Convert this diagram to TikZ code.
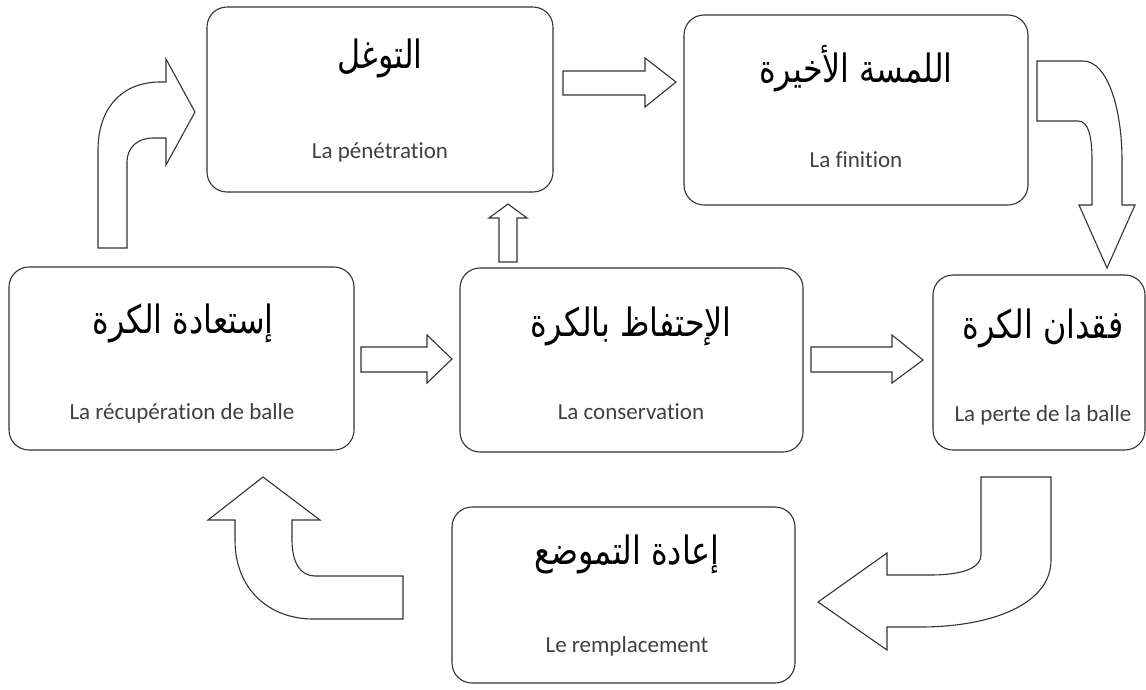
\documentclass[tikz,border=0pt]{standalone}
\usepackage{fontspec}
\setmainfont{Carlito}[Ligatures=NoCommon]
\newfontfamily\arabicfont[Script=Arabic]{DejaVu Sans}
\TeXXeTstate=1
\newcommand{\artxt}[1]{\scalebox{1.06}[1.3]{\arabicfont\fontsize{30}{34}\selectfont\beginR #1\endR}}
\begin{document}
\begin{tikzpicture}[x=1pt,y=-1pt,
  box/.style={draw=black!80, line width=1.1pt, rounded corners=20pt, inner sep=0pt},
  artext/.style={text=black, inner sep=0pt},
  frtext/.style={font=\fontsize{23}{27}\selectfont, text=black!75, inner sep=0pt},
  barrow/.style={draw=black!80, line width=1.1pt, fill=white, line join=miter}]
\useasboundingbox (0,0) rectangle (1146,689);
\fill[white] (0,0) rectangle (1146,689);
% boxes
\node[box, minimum width=346pt, minimum height=185pt] (A) at (380,99.5) {};
\node[box, minimum width=344pt, minimum height=190pt] (B) at (856,110) {};
\node[box, minimum width=345pt, minimum height=183pt] (C) at (181.5,358.5) {};
\node[box, minimum width=343pt, minimum height=184pt] (D) at (631.5,360) {};
\node[box, minimum width=212pt, minimum height=175pt] (E) at (1039,362.5) {};
\node[box, minimum width=343pt, minimum height=176pt] (F) at (623.5,595) {};
% texts
\node[artext] (Aar) at (380,58) {\artxt{التوغل}};
\node[frtext] (Afr) at (380,152) {La pénétration};
\node[artext] (Bar) at (856,69) {\artxt{اللمسة الأخيرة}};
\node[frtext] (Bfr) at (856,160) {La finition};
\node[artext] (Car) at (183,323) {\artxt{إستعادة الكرة}};
\node[frtext] (Cfr) at (182,413) {La récupération de balle};
\node[artext] (Dar) at (631,326) {\artxt{الإحتفاظ بالكرة}};
\node[frtext] (Dfr) at (631,412) {La conservation};
\node[artext] (Ear) at (1043,328) {\artxt{فقدان الكرة}};
\node[frtext] (Efr) at (1043,415) {La perte de la balle};
\node[artext] (Far) at (627,554) {\artxt{إعادة التموضع}};
\node[frtext] (Ffr) at (627,646) {Le remplacement};
% arrows
\draw[barrow] (98,248) -- (98,150) .. controls (98,108) and (122,82) .. (160,82) -- (166,82) -- (166,59) -- (195,112) -- (166,165) -- (166,138) -- (153,138) .. controls (137,138) and (127,148) .. (127,162) -- (127,248) -- cycle;
\draw[barrow] (563,71) -- (645,71) -- (645,58) -- (676,82) -- (645,107) -- (645,95) -- (563,95) -- cycle;
\draw[barrow] (1037,61) -- (1083,61) .. controls (1108,61) and (1122,110) .. (1122,160) -- (1122,205) -- (1135,205) -- (1107,268) -- (1079,205) -- (1092,205) -- (1092,160) .. controls (1092,135) and (1088,121) .. (1078,121) -- (1037,121) -- cycle;
\draw[barrow] (499,262) -- (499,218) -- (489,218) -- (508,204) -- (527,218) -- (517,218) -- (517,262) -- cycle;
\draw[barrow] (361,347) -- (427,347) -- (427,335) -- (452,359) -- (427,383) -- (427,372) -- (361,372) -- cycle;
\draw[barrow] (811,347) -- (892,347) -- (892,335) -- (923,360) -- (892,383) -- (892,372) -- (811,372) -- cycle;
\draw[barrow] (981,477) -- (1051,477) -- (1051,560) .. controls (1051,605) and (990,627) .. (920,627) -- (887,627) -- (887,650) -- (818,602) -- (887,553) -- (887,575) -- (930,575) .. controls (965,575) and (981,567) .. (981,555) -- cycle;
\draw[barrow] (403,576) -- (315,576) .. controls (300,576) and (292,562) .. (292,540) -- (292,520) -- (320,520) -- (263,477) -- (208,520) -- (235,520) -- (235,540) .. controls (235,590) and (270,619) .. (313,619) -- (403,619) -- cycle;
\end{tikzpicture}
\end{document}
